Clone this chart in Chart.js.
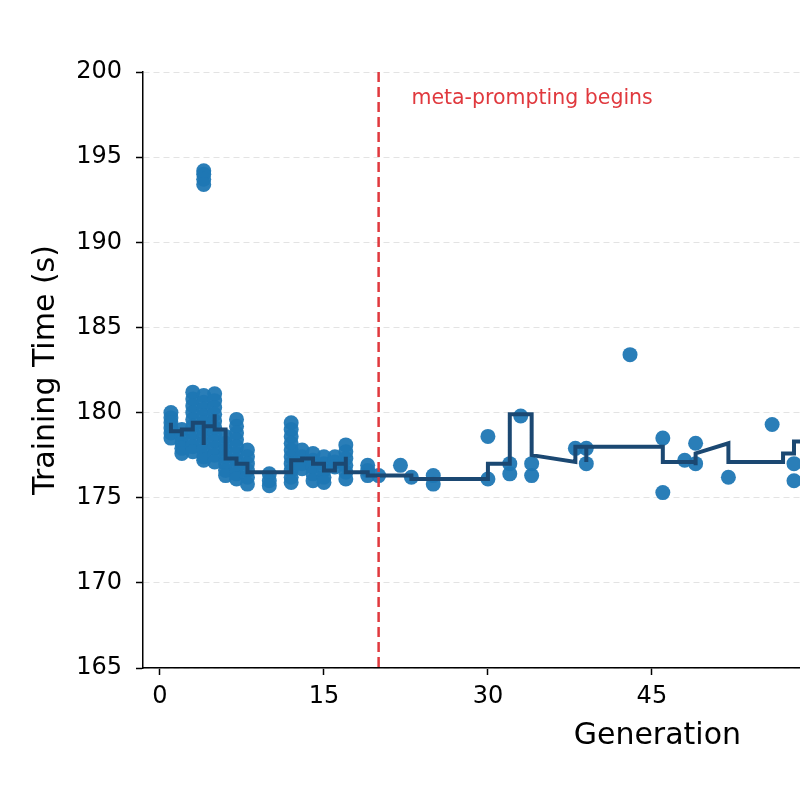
<!DOCTYPE html>
<html>
<head>
<meta charset="utf-8">
<script src="https://cdn.jsdelivr.net/npm/chart.js@4"></script>
<style>
  html, body { margin: 0; padding: 0; background: #fff; }
</style>
</head>
<body>
<canvas id="chart" width="800" height="800"></canvas>
<script>
const FONT = "'DejaVu Sans', sans-serif";
const BLUE = 'rgba(31, 119, 180, 0.95)';
const NAVY = '#1b4872';
const RED = '#e0393e';

// evaluated runs, grouped by generation
const generations = [1, 2, 3, 4, 5, 6, 7, 8, 10, 12, 13, 14, 15, 16, 17, 19, 20, 22, 23, 25, 30, 32, 33, 34, 38, 39, 43, 46, 48, 49, 52, 56, 58];
const timesByGeneration = [
  [180.0, 179.7, 179.4, 179.1, 178.8, 178.5],
  [179.0, 178.6, 178.2, 177.9, 177.6],
  [181.2, 180.8, 180.4, 180.0, 179.6, 179.2, 178.8, 178.4, 178.0, 177.7],
  [194.2, 194.0, 193.7, 193.4, 181.0, 180.6, 180.2, 179.8, 179.4, 179.0, 178.6, 178.2, 177.8, 177.4, 177.2],
  [181.1, 180.7, 180.3, 179.9, 179.5, 179.1, 178.7, 178.3, 177.9, 177.5, 177.1],
  [178.6, 178.2, 177.8, 177.4, 177.0, 176.6, 176.3],
  [179.6, 179.2, 178.8, 178.4, 178.0, 177.6, 177.2, 176.8, 176.4, 176.1],
  [177.8, 177.4, 177.0, 176.6, 176.2, 175.8],
  [176.4, 176.0, 175.7],
  [179.4, 179.0, 178.6, 178.2, 177.8, 177.4, 177.0, 176.6, 176.2, 175.9],
  [177.8, 177.4, 177.0, 176.7],
  [177.6, 177.2, 176.8, 176.4, 176.0],
  [177.4, 177.0, 176.6, 176.2, 175.9],
  [177.4, 177.1, 176.8],
  [178.1, 177.7, 177.3, 176.9, 176.5, 176.1],
  [176.9, 176.6, 176.3],
  [176.3],
  [176.9],
  [176.2],
  [176.3, 175.8],
  [178.6, 176.1],
  [177.0, 176.4],
  [179.8],
  [177.0, 176.3],
  [177.9],
  [177.9, 177.0],
  [183.4],
  [178.5, 175.3],
  [177.2],
  [178.2, 177.0],
  [176.2],
  [179.3],
  [177.0, 176.0]
];

// running curve (vertical jumps inside a generation)
const curveGen = [1, 1, 2, 2, 2, 3, 3, 4, 4, 4, 5, 5, 5, 6, 6, 7, 7, 8, 8, 12, 12, 13, 13, 14, 14, 15, 15, 16, 16, 17, 17, 17, 19, 19, 23, 23, 30, 30, 32, 32, 34, 34, 38, 38, 39, 39, 39, 46, 46, 49, 49, 49, 52, 52, 57, 57, 58, 58, 60];
const curveTime = [179.4, 178.9, 178.9, 178.6, 179.0, 179.0, 179.4, 179.4, 178.1, 179.2, 179.2, 179.9, 179.0, 179.0, 177.3, 177.3, 177.0, 177.0, 176.5, 176.5, 177.2, 177.2, 177.3, 177.3, 177.0, 177.0, 176.6, 176.6, 177.0, 177.0, 177.4, 176.5, 176.5, 176.3, 176.3, 176.1, 176.1, 177.0, 177.0, 179.9, 179.9, 177.5, 177.1, 178.0, 178.0, 177.1, 178.0, 178.0, 177.1, 177.1, 176.9, 177.6, 178.2, 177.1, 177.1, 177.6, 177.6, 178.3, 178.3];

const xTicks = [0, 15, 30, 45];
const yTicks = [165, 170, 175, 180, 185, 190, 195, 200];
const metaStart = 20;

const main = () => {
  const points = [];
  generations.forEach((g, i) => {
    timesByGeneration[i].forEach(t => points.push({ x: g, y: t }));
  });
  const curve = curveGen.map((g, i) => ({ x: g, y: curveTime[i] }));

  const overlay = {
    id: 'overlay',
    afterDatasetsDraw(chart) {
      const { ctx, chartArea, scales: { x } } = chart;
      const px = x.getPixelForValue(metaStart);
      ctx.save();
      ctx.strokeStyle = RED;
      ctx.lineWidth = 2.5;
      ctx.setLineDash([10, 5]);
      ctx.beginPath();
      ctx.moveTo(px, chartArea.top);
      ctx.lineTo(px, chartArea.bottom);
      ctx.stroke();
      ctx.fillStyle = RED;
      ctx.font = `20.5px ${FONT}`;
      ctx.textBaseline = 'middle';
      ctx.fillText('meta-prompting begins', x.getPixelForValue(metaStart + 3), chartArea.top + 27);
      ctx.restore();
    },
    afterDraw(chart) {
      // x title sits right of centre in the original (plot was cropped)
      const { ctx, scales: { x } } = chart;
      ctx.save();
      ctx.fillStyle = '#000';
      ctx.font = `30px ${FONT}`;
      ctx.textAlign = 'center';
      ctx.textBaseline = 'middle';
      ctx.fillText('Generation', x.getPixelForValue(45.5), 736);
      ctx.restore();
    }
  };

  new Chart(document.getElementById('chart'), {
    type: 'scatter',
    data: {
      datasets: [{
        data: curve,
        showLine: true,
        borderColor: NAVY,
        borderWidth: 4,
        borderJoinStyle: 'miter',
        pointRadius: 0,
        order: 0
      }, {
        data: points,
        backgroundColor: BLUE,
        borderWidth: 0,
        pointRadius: 7.5,
        order: 1
      }]
    },
    options: {
      responsive: false,
      animation: false,
      layout: { autoPadding: false, padding: { top: 72, left: 0, right: 0, bottom: 0 } },
      plugins: { legend: { display: false }, tooltip: { enabled: false } },
      scales: {
        x: {
          type: 'linear',
          min: -1.555,
          max: 58.55,
          afterBuildTicks: s => { s.ticks = xTicks.map(v => ({ value: v })); },
          afterFit: s => { s.height = 132; },
          ticks: { color: '#000', font: { family: FONT, size: 24 }, padding: 7 },
          grid: { drawOnChartArea: false, tickLength: 7, tickWidth: 1.5, tickColor: '#000' },
          border: { color: '#000', width: 1.5 }
        },
        y: {
          min: 165,
          max: 200,
          afterBuildTicks: s => { s.ticks = yTicks.map(v => ({ value: v })); },
          afterFit: s => { s.width = 143; },
          ticks: { color: '#000', font: { family: FONT, size: 24 }, padding: 14 },
          grid: { color: '#e3e3e3', lineWidth: 1, tickLength: 7, tickWidth: 1.5, tickColor: '#000' },
          border: { color: '#000', width: 1.5, dash: [6, 4] },
          title: { display: true, text: 'Training Time (s)', color: '#000', font: { family: FONT, size: 30 }, padding: { top: 28 } }
        }
      }
    },
    plugins: [overlay]
  });
};

main();
</script>
</body>
</html>
